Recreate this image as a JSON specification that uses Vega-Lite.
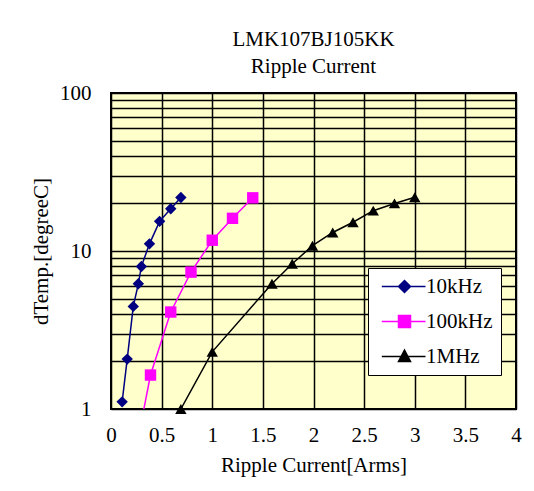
{
  "$schema": "https://vega.github.io/schema/vega-lite/v6.json",
  "width": 405,
  "height": 316,
  "autosize": {"type": "none"},
  "padding": {"left": 111, "top": 93, "right": 18, "bottom": 82},
  "background": "white",
  "config": {
    "font": "Liberation Serif",
    "view": {"fill": "#FFFFCC", "stroke": "black", "strokeWidth": 2}
  },
  "title": {
    "text": ["LMK107BJ105KK", "Ripple Current"],
    "font": "Liberation Serif",
    "fontSize": 21,
    "fontWeight": "normal",
    "color": "black",
    "anchor": "middle",
    "frame": "group",
    "lineHeight": 27,
    "offset": 5
  },
  "data": {
    "values": [
      {"freq": "10kHz", "current": 0.11, "temp": 1.11},
      {"freq": "10kHz", "current": 0.16, "temp": 2.07},
      {"freq": "10kHz", "current": 0.22, "temp": 4.46},
      {"freq": "10kHz", "current": 0.27, "temp": 6.2},
      {"freq": "10kHz", "current": 0.3, "temp": 7.98},
      {"freq": "10kHz", "current": 0.38, "temp": 11.1},
      {"freq": "10kHz", "current": 0.48, "temp": 15.4},
      {"freq": "10kHz", "current": 0.59, "temp": 18.5},
      {"freq": "10kHz", "current": 0.69, "temp": 21.8},
      {"freq": "100kHz", "current": 0.3, "temp": 0.83},
      {"freq": "100kHz", "current": 0.39, "temp": 1.64},
      {"freq": "100kHz", "current": 0.59, "temp": 4.11},
      {"freq": "100kHz", "current": 0.79, "temp": 7.35},
      {"freq": "100kHz", "current": 1.0, "temp": 11.7},
      {"freq": "100kHz", "current": 1.2, "temp": 16.1},
      {"freq": "100kHz", "current": 1.4, "temp": 21.7},
      {"freq": "1MHz", "current": 0.69, "temp": 1.0},
      {"freq": "1MHz", "current": 1.0, "temp": 2.3},
      {"freq": "1MHz", "current": 1.59, "temp": 6.21},
      {"freq": "1MHz", "current": 1.79, "temp": 8.3},
      {"freq": "1MHz", "current": 1.99, "temp": 10.8},
      {"freq": "1MHz", "current": 2.19, "temp": 13.1},
      {"freq": "1MHz", "current": 2.39, "temp": 15.2},
      {"freq": "1MHz", "current": 2.59, "temp": 18.0},
      {"freq": "1MHz", "current": 2.8, "temp": 20.0},
      {"freq": "1MHz", "current": 3.0, "temp": 21.9}
    ]
  },
  "encoding": {
    "x": {
      "field": "current",
      "type": "quantitative",
      "scale": {"domain": [0, 4], "nice": false, "zero": false},
      "axis": {
        "title": "Ripple Current[Arms]",
        "values": [0, 0.5, 1, 1.5, 2, 2.5, 3, 3.5, 4],
        "labelExpr": "'' + datum.value",
        "grid": true,
        "gridColor": "black",
        "gridWidth": 1.5,
        "gridOpacity": 1,
        "domain": false,
        "ticks": false,
        "labelFont": "Liberation Serif",
        "labelFontSize": 21,
        "labelColor": "black",
        "labelPadding": 15,
        "labelFlush": false,
        "labelOverlap": false,
        "titleFont": "Liberation Serif",
        "titleFontSize": 21,
        "titleFontWeight": "normal",
        "titleColor": "black",
        "titlePadding": 9
      }
    },
    "y": {
      "field": "temp",
      "type": "quantitative",
      "scale": {"type": "log", "domain": [1, 100], "nice": false},
      "axis": {
        "title": "dTemp.[degreeC]",
        "values": [1, 2, 3, 4, 5, 6, 7, 8, 9, 10, 20, 30, 40, 50, 60, 70, 80, 90, 100],
        "labelExpr": "datum.value == 1 || datum.value == 10 || datum.value == 100 ? '' + datum.value : ''",
        "grid": true,
        "gridColor": "black",
        "gridWidth": 1.5,
        "gridOpacity": 1,
        "domain": false,
        "ticks": false,
        "labelFont": "Liberation Serif",
        "labelFontSize": 21,
        "labelColor": "black",
        "labelPadding": 20,
        "labelFlush": false,
        "labelOverlap": false,
        "titleFont": "Liberation Serif",
        "titleFontSize": 21,
        "titleFontWeight": "normal",
        "titleColor": "black",
        "titlePadding": 8
      }
    }
  },
  "resolve": {
    "scale": {"shape": "independent"},
    "legend": {"color": "independent", "shape": "independent", "stroke": "independent"}
  },
  "layer": [
    {
      "mark": {"type": "line", "clip": true, "strokeWidth": 1.5},
      "encoding": {
        "color": {"field": "freq", "type": "nominal", "legend": null, "scale": {"domain": ["10kHz", "100kHz", "1MHz"], "range": ["#000080", "#FF00FF", "#000000"]}},
        "order": {"field": "current", "type": "quantitative"}
      }
    },
    {
      "transform": [{"filter": "datum.temp >= 1"}],
      "mark": {"type": "point", "filled": true, "opacity": 1, "size": 130},
      "encoding": {
        "color": {"field": "freq", "type": "nominal", "legend": null, "scale": {"domain": ["10kHz", "100kHz", "1MHz"], "range": ["#000080", "#FF00FF", "#000000"]}},
        "shape": {
          "field": "freq",
          "type": "nominal",
          "scale": {"domain": ["10kHz", "100kHz", "1MHz"], "range": ["diamond", "square", "triangle-up"]},
          "legend": null
        }
      }
    },
    {
      "transform": [{"filter": "datum.temp >= 1"}],
      "mark": {"type": "point", "filled": true, "opacity": 0, "size": 100, "strokeWidth": 1.5},
      "encoding": {
        "color": {
          "field": "freq", "type": "nominal",
          "scale": {"domain": ["10kHz", "100kHz", "1MHz"], "range": ["#000080", "#FF00FF", "#000000"]},
          "legend": {
            "title": null, "orient": "none", "legendX": 257, "legendY": 175,
            "fillColor": "white", "strokeColor": "black", "padding": 8,
            "symbolSize": 100, "symbolStrokeWidth": 1.5, "symbolOpacity": 1,
            "labelFont": "Liberation Serif", "labelFontSize": 21, "labelColor": "black",
            "labelOffset": 29, "rowPadding": 13
          }
        },
        "stroke": {
          "field": "freq", "type": "nominal",
          "scale": {"domain": ["10kHz", "100kHz", "1MHz"], "range": ["#000080", "#FF00FF", "#000000"]},
          "legend": {
            "title": null, "orient": "none", "legendX": 257, "legendY": 175,
            "fillColor": "white", "strokeColor": "black", "padding": 8,
            "symbolSize": 100, "symbolStrokeWidth": 1.5, "symbolOpacity": 1,
            "labelFont": "Liberation Serif", "labelFontSize": 21, "labelColor": "black",
            "labelOffset": 29, "rowPadding": 13
          }
        },
        "shape": {
          "field": "freq", "type": "nominal",
          "scale": {"domain": ["10kHz", "100kHz", "1MHz"], "range": ["M-0.94,0H7.8M3.6,-1.2L4.8,0L3.6,1.2L2.4,0Z", "M-0.94,0H7.8M2.4,-1.2H4.8V1.2H2.4Z", "M-0.94,0H7.8M3.6,-1.3L4.8,1L2.4,1Z"]},
          "legend": {
            "title": null, "orient": "none", "legendX": 257, "legendY": 175,
            "fillColor": "white", "strokeColor": "black", "padding": 8,
            "symbolSize": 100, "symbolStrokeWidth": 1.5, "symbolOpacity": 1,
            "labelFont": "Liberation Serif", "labelFontSize": 21, "labelColor": "black",
            "labelOffset": 29, "rowPadding": 13
          }
        }
      }
    }
  ]
}
